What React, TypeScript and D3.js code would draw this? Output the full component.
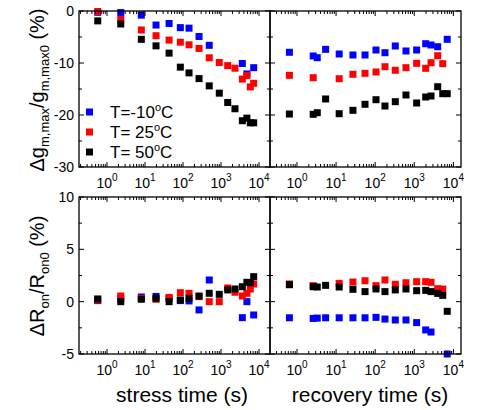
import React from "react";
import * as d3 from "d3";

// stress / recovery times (s), shared by every series of a panel
const stressTimes = [0.57, 2.3, 8, 19.5, 43, 85, 144, 264, 490, 900, 1500, 2330, 3640, 4800, 5900, 7240];
const recoveryTimes = [0.64, 2.6, 3.3, 5.4, 12, 27, 55, 105, 178, 327, 614, 1150, 1960, 2680, 3970, 5350, 6960];

// delta gm,max / gm,max0 (%) during stress
const gmStressM10 = [-0.25, -0.3, -0.8, -2.7, -2.4, -3.2, -3.3, -4.9, -6.6, null, null, null, -10.1, -12.1, null, -10.9];
const gmStress25 = [-0.1, -1.6, -3.65, -4.75, -5.6, -6.0, -6.5, -7.2, -9.0, -9.9, -10.5, -11.0, -13.1, -12.4, -14.6, -13.9];
const gmStress50 = [-1.9, -2.5, -5.45, -6.7, -8.1, -10.8, -11.9, -13.0, -14.4, -15.8, -17.6, -18.8, -21.1, -20.6, -21.5, -21.5];

// delta gm,max / gm,max0 (%) during recovery
const gmRecM10 = [-7.94, -8.65, -8.98, -7.37, -8.27, -8.46, -8.46, -7.5, -8.02, -6.73, -7.69, -7.5, -6.29, -6.54, -6.87, null, -5.44];
const gmRec25 = [-12.37, -12.83, null, null, -13.02, -12.17, -11.98, -11.73, -10.71, -11.4, -10.9, -10.06, -11.02, -9.94, -8.6, -10.13, null];
const gmRec50 = [-19.81, -19.87, -19.56, -16.92, -19.75, -19.1, -17.94, -17.06, -18.27, -17.44, -16.15, -17.69, -16.54, -16.35, -14.56, -15.9, -15.9];

// delta Ron / Ron0 (%) during stress
const ronStressM10 = [0.1, 0.3, 0.45, 0.5, 0.3, 0.1, 0.07, -0.79, 2.07, null, null, null, -1.53, 0.0, null, -1.27];
const ronStress25 = [0.16, 0.54, 0.32, 0.23, 0.41, 0.86, 0.8, 0.48, 0, 0, 1.31, 0.9, 0.54, 0.8, 1.21, 1.69];
const ronStress50 = [0.26, 0.0, 0.23, 0.32, 0.0, 0.16, 0.32, 0.54, 0.8, 0.7, 1.12, 1.21, 1.43, 1.85, 1.81, 2.39];

// delta Ron / Ron0 (%) during recovery
const ronRecM10 = [-1.54, -1.6, -1.57, -1.54, -1.54, -1.54, -1.54, -1.5, -1.66, -1.75, -1.75, -2.0, -2.7, -2.9, null, null, -5.0];
const ronRec25 = [1.69, 1.53, null, null, 1.75, 1.88, 2.0, 1.53, 2.07, 1.66, 1.81, 1.91, 1.91, 1.85, 1.24, 1.2, null];
const ronRec50 = [1.62, 1.43, 1.4, 1.56, 1.4, 1.18, 0.96, 1.21, 0.96, 1.12, 1.21, 1.05, 1.08, 0.96, 0.79, 0.6, -0.92];

const legendLabels = ["-10", " 25", " 50"];
const colors = ["#0000ff", "#ff0000", "#000000"];
const decades = [0, 1, 2, 3, 4];

const font = "'Liberation Sans', Arial, sans-serif";
const W = 482;
const H = 410;

const xStress = d3.scaleLog().domain([Math.pow(10, -0.737), Math.pow(10, 4.289)]).range([79, 270]);
const xRecov = d3.scaleLog().domain([Math.pow(10, -0.69), Math.pow(10, 4.195)]).range([270, 461]);
const yGm = d3.scaleLinear().domain([-30, 0]).range([167, 11]);
const yRon = d3.scaleLinear().domain([-5, 10]).range([354, 197]);

type Scale = d3.ScaleLogarithmic<number, number>;
type YScale = d3.ScaleLinear<number, number>;

function Panel(props: {
  x: Scale;
  y: YScale;
  times: number[];
  series: (number | null)[][];
  yStep: number;
  yMajor: number;
  yLabels: boolean;
}) {
  const { x, y, times, series, yStep, yMajor, yLabels } = props;
  const [x0, x1] = x.range();
  const [y1, y0] = y.range();
  const [ymin, ymax] = y.domain();
  const xt = x.ticks().filter((t) => t >= x.domain()[0] && t <= x.domain()[1]);
  const yt = d3.range(ymin, ymax + 0.001, yStep);
  const isMajor = (t: number) => Math.abs(Math.log10(t) - Math.round(Math.log10(t))) < 1e-6;
  const s = 7;
  return (
    <g>
      {series.map((vals, si) => (
        <g key={si} fill={colors[si]}>
          {vals.map((v, i) =>
            v === null ? null : (
              <rect key={i} x={x(times[i]) - s / 2} y={y(v) - s / 2} width={s} height={s} />
            )
          )}
        </g>
      ))}
      <rect x={x0} y={y0} width={x1 - x0} height={y1 - y0} fill="none" stroke="#000" strokeWidth={1.3} />
      {xt.map((t, i) => {
        const len = isMajor(t) ? 5 : 3;
        const px = x(t);
        return (
          <g key={i} stroke="#000" strokeWidth={1}>
            <line x1={px} x2={px} y1={y1} y2={y1 - len} />
            <line x1={px} x2={px} y1={y0} y2={y0 + len} />
          </g>
        );
      })}
      {yt.map((t, i) => {
        const len = Math.abs(t % yMajor) < 1e-6 ? 5 : 3;
        const py = y(t);
        return (
          <g key={i} stroke="#000" strokeWidth={1}>
            <line x1={x0} x2={x0 + len} y1={py} y2={py} />
            <line x1={x1} x2={x1 - len} y1={py} y2={py} />
          </g>
        );
      })}
      {decades.map((d) => (
        <text key={d} x={x(Math.pow(10, d))} y={y1 + 21} textAnchor="middle" fontSize={14} fontFamily={font}>
          10<tspan dy={-7} fontSize={10}>{d}</tspan>
        </text>
      ))}
      {yLabels &&
        yt
          .filter((t) => Math.abs(t % yMajor) < 1e-6)
          .map((t) => (
            <text key={t} x={x0 - 5} y={y(t)} dy="0.36em" textAnchor="end" fontSize={14} fontFamily={font}>
              {t}
            </text>
          ))}
    </g>
  );
}

export default function App() {
  return (
    <svg width={W} height={H} style={{ position: "absolute", left: 0, top: 0, background: "#fff" }}>
      <Panel x={xStress} y={yGm} times={stressTimes} series={[gmStressM10, gmStress25, gmStress50]} yStep={5} yMajor={10} yLabels={true} />
      <Panel x={xRecov} y={yGm} times={recoveryTimes} series={[gmRecM10, gmRec25, gmRec50]} yStep={5} yMajor={10} yLabels={false} />
      <Panel x={xStress} y={yRon} times={stressTimes} series={[ronStressM10, ronStress25, ronStress50]} yStep={2.5} yMajor={5} yLabels={true} />
      <Panel x={xRecov} y={yRon} times={recoveryTimes} series={[ronRecM10, ronRec25, ronRec50]} yStep={2.5} yMajor={5} yLabels={false} />

      {legendLabels.map((lab, i) => (
        <g key={i}>
          <rect x={86} y={108.5 + i * 20} width={7} height={7} fill={colors[i]} />
          <text x={110} y={118 + i * 20} fontSize={17} fontFamily={font} style={{ whiteSpace: "pre" }}>
            {"T=" + lab}
            <tspan dy={-7} fontSize={11}>o</tspan>
            <tspan dy={7}>C</tspan>
          </text>
        </g>
      ))}

      <text transform="translate(44,90) rotate(-90)" textAnchor="middle" fontSize={20} fontFamily={font}>
        Δg<tspan dy={5} fontSize={13}>m,max</tspan>
        <tspan dy={-5}>/g</tspan>
        <tspan dy={5} fontSize={13}>m,max0</tspan>
        <tspan dy={-5}> (%)</tspan>
      </text>
      <text transform="translate(44,276) rotate(-90)" textAnchor="middle" fontSize={20} fontFamily={font}>
        ΔR<tspan dy={5} fontSize={13}>on</tspan>
        <tspan dy={-5}>/R</tspan>
        <tspan dy={5} fontSize={13}>on0</tspan>
        <tspan dy={-5}> (%)</tspan>
      </text>

      <text x={182} y={402} textAnchor="middle" fontSize={21} fontFamily={font}>
        stress time (s)
      </text>
      <text x={370} y={402} textAnchor="middle" fontSize={21} fontFamily={font}>
        recovery time (s)
      </text>
    </svg>
  );
}
